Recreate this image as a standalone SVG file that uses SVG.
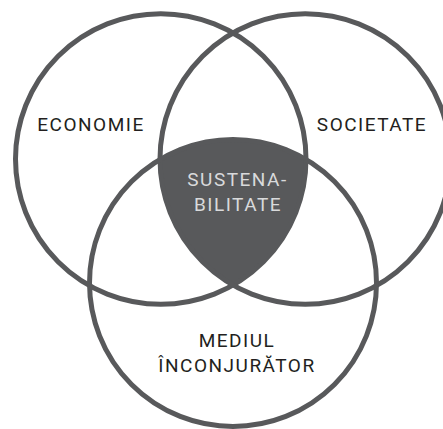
<svg xmlns="http://www.w3.org/2000/svg" width="443" height="429" viewBox="0 0 443 429">
<style>
.c{fill:none;stroke:#58595b;stroke-width:5}
.t{font-family:Roboto,"Liberation Sans",sans-serif;font-size:19px;letter-spacing:1.5px;text-anchor:middle;fill:#231f20}
.w{fill:#d9dadb}
</style>
<rect width="443" height="429" fill="#ffffff"/>
<g id="core">
<path d="M160,159.45 A143.5,143.5 0 0 1 306,159.45 A145.25,145.25 0 0 1 233,285 A145.25,145.25 0 0 1 160,159.45 Z" fill="#58595b"/>
</g>
<g id="economie">
<circle class="c" cx="160.75" cy="159" r="145.25"/>
<text class="t" x="91" y="131">ECONOMIE</text>
</g>
<g id="societate">
<circle class="c" cx="305.25" cy="159" r="145.25"/>
<text class="t" x="372" y="131">SOCIETATE</text>
</g>
<g id="mediul">
<circle class="c" cx="233" cy="283" r="143.5"/>
<text class="t" x="237" y="347">MEDIUL</text>
<text class="t" x="237" y="372">ÎNCONJURĂTOR</text>
</g>
<g id="sustenabilitate">
<text class="t w" x="237.5" y="186">SUSTENA-</text>
<text class="t w" x="238" y="211">BILITATE</text>
</g>
<g id="connectors"></g>
</svg>
